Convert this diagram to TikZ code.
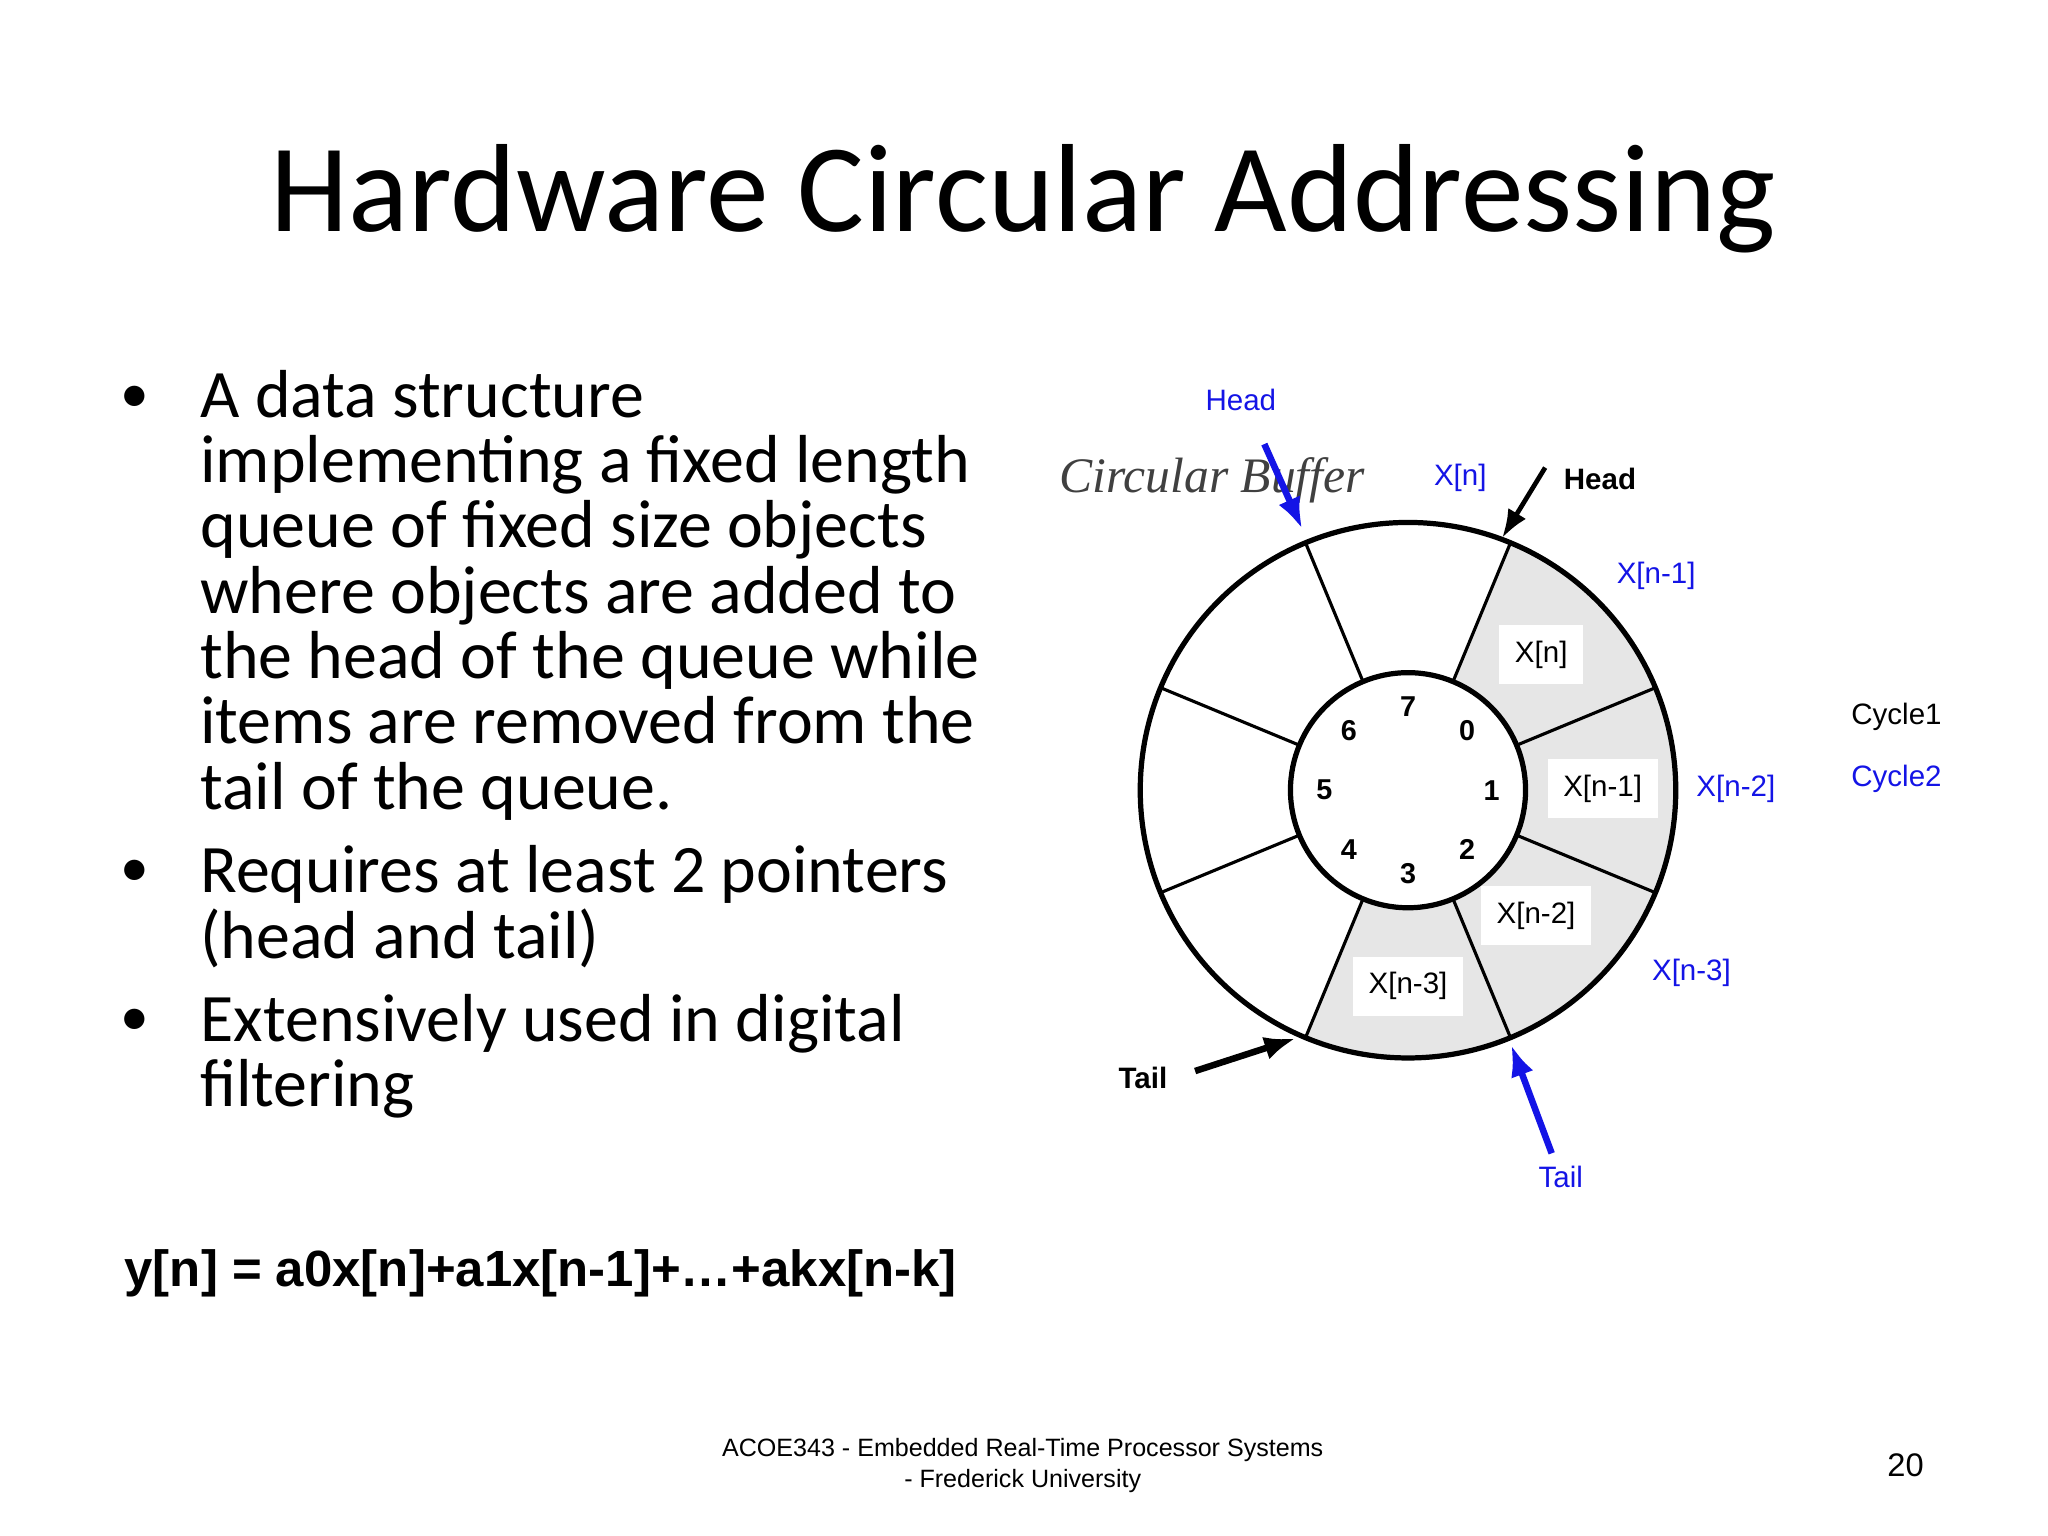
\documentclass[tikz,border=0pt]{standalone}
\usepackage{fontspec}
\usetikzlibrary{arrows.meta}
\setmainfont{Carlito}
\newfontfamily\arial{Liberation Sans}
\newfontfamily\hand{Liberation Serif}
\definecolor{bl}{RGB}{20,20,230}
\definecolor{sh}{RGB}{230,230,230}
\begin{document}
\begin{tikzpicture}[x=0.5pt,y=-0.5pt,
  lab/.style={font=\arial\fontsize{11.3}{13}\selectfont,inner sep=1pt},
  blab/.style={lab,text=bl},
  boxlab/.style={lab,fill=white,inner sep=6pt},
  num/.style={font=\arial\bfseries\fontsize{11}{12}\selectfont},
  bul/.style={font=\fontsize{26}{25}\selectfont,anchor=north west,align=left,inner sep=0pt}]
\useasboundingbox (0,0) rectangle (1568,1176);
\fill[white] (0,0) rectangle (1568,1176);
\node[font=\fontsize{48}{52}\selectfont] (title) at (783,152) {Hardware Circular Addressing};
% bullets
\node[bul] (b1) at (153,283) {A data structure\\implementing a fixed length\\queue of fixed size objects\\where objects are added to\\the head of the queue while\\items are removed from the\\tail of the queue.};
\node[bul] (b2) at (153,647) {Requires at least 2 pointers\\(head and tail)};
\node[bul] (b3) at (153,761) {Extensively used in digital\\filtering};
\foreach \y/\n in {306/d1,669/d2,783/d3}{\node[font=\fontsize{22}{25}\selectfont] (\n) at (103,\y) {•};}
\node[font=\arial\bfseries\fontsize{19.5}{21}\selectfont,anchor=west,inner sep=0pt] (eq) at (95,975) {y[n] = a0x[n]+a1x[n-1]+…+akx[n-k]};
\node[font=\arial\fontsize{9.6}{12}\selectfont,align=center] (foot) at (783,1122) {ACOE343 - Embedded Real-Time Processor Systems\\- Frederick University};
\node[font=\arial\fontsize{12.5}{14}\selectfont] (pg) at (1459,1122) {20};
% circle
\begin{scope}[x=0.5pt,y=0.5pt,shift={(1078,-605)}]
\fill[sh] (67.5:90) -- (67.5:205) arc[start angle=67.5,end angle=-112.5,radius=205] -- (-112.5:90) arc[start angle=-112.5,end angle=67.5,radius=90] -- cycle;
\foreach \a in {22.5,67.5,...,337.5}{\draw[line width=1.2pt] (\a:90) -- (\a:205);}
\draw[line width=2pt,fill=white] (0,0) circle[radius=90];
\draw[line width=2pt] (0,0) circle[radius=205];
\foreach \a/\t in {90/7,45/0,0/1,-45/2,-90/3,-135/4,180/5,135/6}{\node[num] (n\t) at (\a:64) {\t};}
\end{scope}
\node[font=\hand\itshape\fontsize{19}{20}\selectfont,text=black!75] (cb) at (928,368) {Circular Buffer};
% arrows
\coordinate (h1s) at (968,340); \coordinate (h1e) at (997,405);
\draw[bl,line width=2.5pt,-{Latex[length=12pt,width=9pt]}] (h1s) -- (h1e);
\coordinate (h2s) at (1183,358); \coordinate (h2e) at (1150,412);
\draw[black,line width=1.8pt,-{Latex[length=11pt,width=8pt]}] (h2s) -- (h2e);
\coordinate (t1s) at (915,820); \coordinate (t1e) at (992,795);
\draw[black,line width=2.5pt,-{Latex[length=12pt,width=9pt]}] (t1s) -- (t1e);
\coordinate (t2s) at (1188,883); \coordinate (t2e) at (1157,800);
\draw[bl,line width=2.5pt,-{Latex[length=12pt,width=9pt]}] (t2s) -- (t2e);
% labels
\node[blab] (lh1) at (950,306) {Head};
\node[blab] (lxn) at (1118,366) {X[n]};
\node[lab,font=\arial\bfseries\fontsize{11.3}{13}\selectfont] (lh2) at (1225,367) {Head};
\node[blab] (lxn1) at (1268,441) {X[n-1]};
\node[boxlab] (bxn) at (1180,501) {X[n]};
\node[lab] (cy1) at (1452,549) {Cycle1};
\node[blab] (cy2) at (1452,596) {Cycle2};
\node[boxlab] (bxn1) at (1227,604) {X[n-1]};
\node[blab] (lxn2) at (1329,604) {X[n-2]};
\node[boxlab] (bxn2) at (1176,701) {X[n-2]};
\node[blab] (lxn3) at (1295,745) {X[n-3]};
\node[boxlab] (bxn3) at (1078,755) {X[n-3]};
\node[lab,font=\arial\bfseries\fontsize{11.3}{13}\selectfont] (lt1) at (875,825) {Tail};
\node[blab] (lt2) at (1195,901) {Tail};
\end{tikzpicture}
\end{document}
